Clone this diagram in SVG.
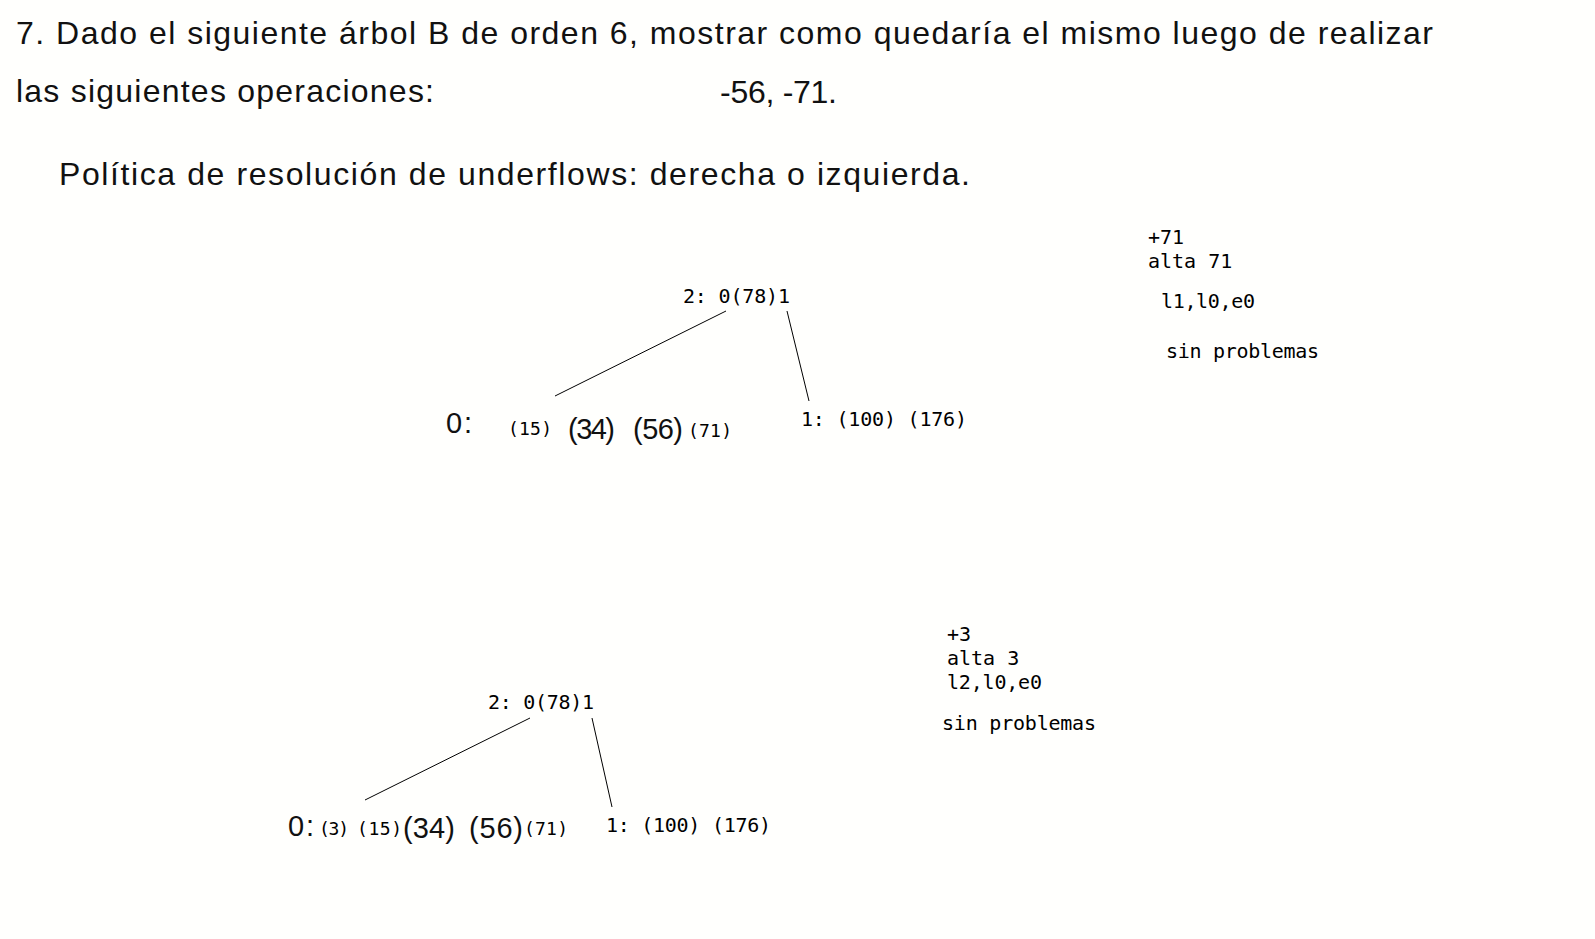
<svg xmlns="http://www.w3.org/2000/svg" width="1595" height="939" viewBox="0 0 1595 939">
<style>
.h{font-family:"Liberation Sans",Arial,sans-serif;font-size:32px;fill:#111}
.b{font-family:"Liberation Sans",Arial,sans-serif;font-size:29px;fill:#111}
.m{font-family:"DejaVu Sans Mono","Liberation Mono",monospace;font-size:20px;fill:#000}
.s{font-family:"DejaVu Sans Mono","Liberation Mono",monospace;font-size:18px;fill:#000}
.e{stroke:#000;stroke-width:1;fill:none}
</style>
<rect width="1595" height="939" fill="#fffffd"/>
<g id="title">
<text class="h" x="16" y="44" textLength="1417">7. Dado el siguiente árbol B de orden 6, mostrar como quedaría el mismo luego de realizar</text>
<text class="h" x="16" y="102" textLength="418">las siguientes operaciones:</text>
<text class="h" x="720" y="103" textLength="117">-56, -71.</text>
<text class="h" x="59" y="185" textLength="911">Política de resolución de underflows: derecha o izquierda.</text>
</g>
<g id="edges">
<line class="e" x1="726" y1="311" x2="555" y2="396"/>
<line class="e" x1="787" y1="311" x2="809" y2="401"/>
<line class="e" x1="530" y1="718" x2="365" y2="800"/>
<line class="e" x1="592" y1="718" x2="612" y2="807"/>
</g>
<g id="t1-root"><text class="m" x="683" y="303" textLength="107">2: 0(78)1</text></g>
<g id="t1-n0">
<text class="b" x="446" y="433" textLength="26">0:</text>
<text class="s" x="508" y="435" textLength="44">(15)</text>
<text class="b" x="568" y="439" textLength="47">(34)</text>
<text class="b" x="633" y="439" textLength="50">(56)</text>
<text class="s" x="688" y="437" textLength="44">(71)</text>
</g>
<g id="t1-n1"><text class="m" x="801" y="426" textLength="166">1: (100) (176)</text></g>
<g id="t1-notes">
<text class="m" x="1148" y="244">+71</text>
<text class="m" x="1148" y="268">alta 71</text>
<text class="m" x="1161" y="308" textLength="94">l1,l0,e0</text>
<text class="m" x="1166" y="358" textLength="153">sin problemas</text>
</g>
<g id="t2-root"><text class="m" x="488" y="709" textLength="106">2: 0(78)1</text></g>
<g id="t2-n0">
<text class="b" x="288" y="836" textLength="26">0:</text>
<text class="s" x="319" y="835" textLength="30">(3)</text>
<text class="s" x="357" y="835" textLength="45">(15)</text>
<text class="b" x="403" y="838" textLength="52">(34)</text>
<text class="b" x="469" y="838" textLength="54">(56)</text>
<text class="s" x="524" y="835" textLength="44">(71)</text>
</g>
<g id="t2-n1"><text class="m" x="606" y="832" textLength="165">1: (100) (176)</text></g>
<g id="t2-notes">
<text class="m" x="947" y="641">+3</text>
<text class="m" x="947" y="665">alta 3</text>
<text class="m" x="947" y="689" textLength="95">l2,l0,e0</text>
<text class="m" x="942" y="730" textLength="154">sin problemas</text>
</g>
</svg>
